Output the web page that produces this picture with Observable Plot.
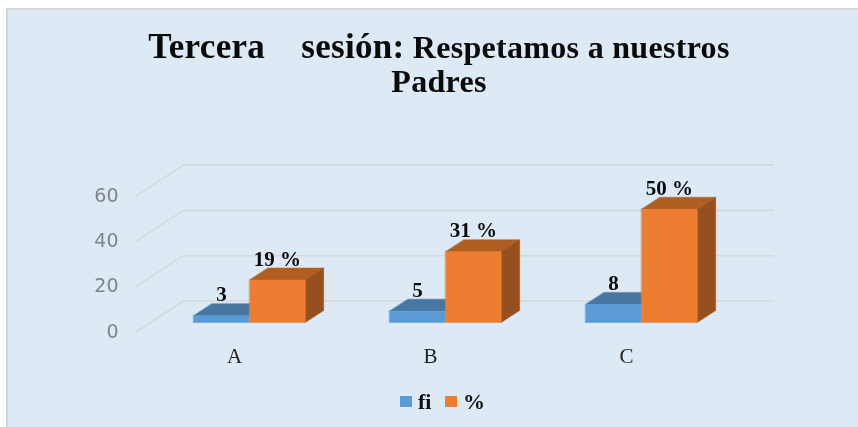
<!DOCTYPE html>
<html><head><meta charset="utf-8">
<script src="https://cdn.jsdelivr.net/npm/d3@7"></script>
<script src="https://cdn.jsdelivr.net/npm/@observablehq/plot@0.6"></script>
<style>
html,body{margin:0;padding:0;background:#fff;overflow:hidden}
#panel{position:absolute;left:6px;top:8px;width:852px;height:419px;background:#dde9f5;border-left:2px solid #d4d6d8;border-top:2px solid #d8d9da;box-sizing:border-box}
#title{height:100px;box-sizing:border-box;padding-top:20px;padding-left:12px;text-align:center;font-family:"Liberation Serif",serif;font-weight:bold;color:#0a0a0a;line-height:34px;white-space:pre;font-size:32px;letter-spacing:.3px;filter:blur(.35px)}
#title .a{font-size:35px}
#legend{position:relative;height:40px;font-family:"Liberation Serif",serif;font-weight:bold;font-size:22px;color:#111;filter:blur(.35px)}
#legend i{position:absolute;top:11px;width:12px;height:11px}
#legend span{position:absolute;top:4px}
#chart{filter:blur(.35px)}
svg{display:block}
</style></head><body>
<div id="panel">
<div id="title"></div>
<div id="chart"></div>
<div id="legend"></div>
</div>
<script>
const titleMain = "Tercera    sesión:";
const titleRest = " Respetamos a nuestros";
const titleLine2 = "Padres";
const categories = ["A", "B", "C"];
const fi = [3, 5, 8];
const pct = [18.75, 31.25, 50];
const fiLabels = ["3", "5", "8"];
const pctLabels = ["19 %", "31 %", "50 %"];
const yTicks = [0, 20, 40, 60];
const seriesNames = ["fi", "%"];

// projection constants, in scale units
const barW = 0.2857, barW2 = 0.284, depthX = 0.0944, depthY = 5.3;
const wallFrontX = -0.5816, wallBackX = -0.3367, wallEndX = 2.673, wallBackY = 9.5, wallFrontY = -4.4;

const blue = {front:"#5b9bd5", top:"#4676a1"};
const orange = {front:"#ed7d31", top:"#b15e22", side:"#964f1e"};

function poly(points, id){return points.map(p => ({x:p[0], y:p[1], id}));}
const faces = (vals, x0, w, face) => vals.flatMap((v,i) => {
  const l = i + x0, r = l + w;
  if (face === "front") return poly([[l,0],[r,0],[r,v],[l,v]], i);
  if (face === "top") return poly([[l,v],[r,v],[r+depthX,v+depthY],[l+depthX,v+depthY]], i);
  return poly([[r,0],[r+depthX,depthY],[r+depthX,v+depthY],[r,v]], i);
});
const grid = yTicks.flatMap(t => poly([[wallFrontX,t+wallFrontY],[wallBackX,t+wallBackY],[wallEndX,t+wallBackY]], t));
const faceMark = (vals, x0, w, face, fill) => Plot.line(faces(vals,x0,w,face), {x:"x", y:"y", z:"id", fill, stroke:fill, strokeWidth:0.5, curve:"linear-closed"});

const labels = [
  ...fi.map((v,i)=>({x:i-barW/2, y:v, t:fiLabels[i]})),
  ...pct.map((v,i)=>({x:i+barW/2, y:v, t:pctLabels[i]}))
];

const T = document.getElementById("title");
T.innerHTML = `<span class="a">${titleMain}</span>${titleRest}\n${titleLine2}`;

const plot = Plot.plot({
  width: 850, height: 275,
  marginLeft: 117, marginRight: 0, marginTop: 0, marginBottom: 0,
  style: {background:"transparent", overflow:"visible"},
  x: {type:"linear", domain:[0,2], range:[241,633], axis:null},
  y: {type:"linear", domain:[0,60], range:[212,76.1], axis:null},
  marks: [
    Plot.line(grid, {x:"x", y:"y", z:"id", stroke:"#d5d9dc", strokeWidth:1.6}),
    Plot.axisY({ticks:yTicks, label:null, anchor:"left", tickSize:0, tickPadding:7, dy:9, fontSize:19, fontFamily:"DejaVu Sans", fill:"#7f8488", style:{letterSpacing:"1.5px"}}),
    Plot.axisX({ticks:[0,1,2], label:null, anchor:"bottom", y:0, tickSize:0, tickPadding:0, dx:-15, dy:26, tickFormat:i=>categories[i], fontSize:21, fontFamily:"Liberation Serif", fill:"#222"}),
    faceMark(fi, -barW, barW, "top", blue.top),
    faceMark(fi, -barW, barW, "front", blue.front),
    faceMark(pct, 0, barW2, "top", orange.top),
    faceMark(pct, 0, barW2, "side", orange.side),
    faceMark(pct, 0, barW2, "front", orange.front),
    Plot.text(labels, {x:"x", y:"y", text:"t", dy:-21, fontSize:21, fontWeight:"bold", fontFamily:"Liberation Serif", fill:"#0a0a0a", style:{letterSpacing:"0.6px"}})
  ]
});
document.getElementById("chart").append(plot);

const L = document.getElementById("legend");
L.innerHTML = `<i style="left:392px;background:${blue.front}"></i><span style="left:410px">${seriesNames[0]}</span>`+
  `<i style="left:437px;background:${orange.front}"></i><span style="left:455px">${seriesNames[1]}</span>`;
</script>
</body></html>
